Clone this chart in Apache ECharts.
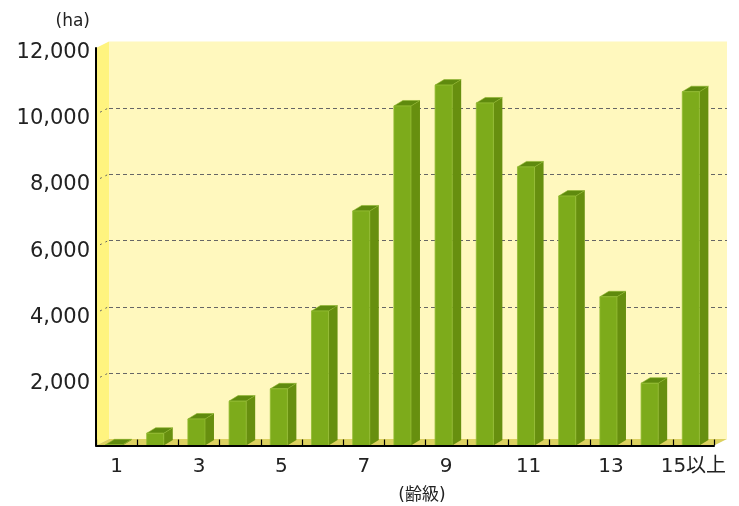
<!DOCTYPE html>
<html>
<head>
<meta charset="utf-8">
<script src="https://cdn.jsdelivr.net/npm/echarts@6/dist/echarts.min.js"></script>
<style>
html,body{margin:0;padding:0;background:#fff;}
#chart{width:739px;height:506px;}
</style>
</head>
<body>
<div id="chart"></div>
<script>
// ---- data ----
const categories = ['1','2','3','4','5','6','7','8','9','10','11','12','13','14','15以上'];
const areaValues = [20, 370, 800, 1340, 1710, 4060, 7080, 10250, 10880, 10340, 8410, 7530, 4490, 1880, 10680];
const gridTickValues = [2000, 4000, 6000, 8000, 10000];
const yMax = 12000;
const yStep = 2000;

// ---- 3D look ----
const DX = 13, DY = -6.5;       // back-plane offset
const BDX = 9, BDY = -5.5;      // bar depth offset

function renderWalls(params, api) {
  const cs = params.coordSys;
  const x0 = cs.x, x1 = cs.x + cs.width, yt = cs.y, yb = cs.y + cs.height;
  const ch = [];
  ch.push({type:'polygon', shape:{points:[[x0+DX,yt+DY],[x1+DX,yt+DY],[x1+DX,yb+DY],[x0+DX,yb+DY]]}, style:{fill:'#FFF8BE'}});
  ch.push({type:'polygon', shape:{points:[[x0,yt],[x0+DX,yt+DY],[x0+DX,yb+DY],[x0,yb]]}, style:{fill:'#FFF47F'}});
  gridTickValues.forEach(v => {
    const y = Math.round(api.coord([0, v])[1] + DY) + 0.5;
    ch.push({type:'line', shape:{x1:x0+DX, y1:y, x2:x1+DX, y2:y}, style:{stroke:'#666', lineWidth:1, lineDash:[4,3]}});
    const yf = api.coord([0, v])[1];
    ch.push({type:'line', shape:{x1:x0+4, y1:yf+DY*4/DX, x2:x0+DX, y2:yf+DY}, style:{stroke:'#666', lineWidth:1, lineDash:[2,4]}});
  });
  ch.push({type:'polygon', shape:{points:[[x0,yb],[x0+DX,yb+DY],[x1+DX,yb+DY],[x1,yb]]}, style:{fill:'#DCD160'}});
  return {type:'group', children: ch};
}

function renderBar(params, api) {
  const i = api.value(0);
  const base = api.coord([i, 0]);
  const top = api.coord([i, api.value(1)]);
  const band = api.size([1, 0])[0];
  const cx = base[0];
  const fl = cx - band * 0.27, fr = cx + band * 0.145;
  const y0 = base[1], y1 = top[1];
  return {type:'group', children:[
    {type:'polygon', shape:{points:[[fr,y1],[fr+BDX,y1+BDY],[fr+BDX,y0+BDY],[fr,y0]]}, style:{fill:'#678F0F'}},
    {type:'polygon', shape:{points:[[fl,y1],[fl+BDX,y1+BDY],[fr+BDX,y1+BDY],[fr,y1]]}, style:{fill:'#5F8A0E', stroke:'#8DB52C', lineWidth:0.6}},
    {type:'polygon', shape:{points:[[fl,y1],[fr,y1],[fr,y0],[fl,y0]]}, style:{fill:'#7DAB1B', stroke:'#93BC33', lineWidth:0.8}}
  ]};
}

const FONT = '"DejaVu Sans", "Noto Sans CJK JP", sans-serif';

const chart = echarts.init(document.getElementById('chart'), null, {renderer:'canvas'});
chart.setOption({
  animation: false,
  backgroundColor: '#ffffff',
  grid: {left: 96, right: 25, top: 48, bottom: 60.5},
  xAxis: {
    type: 'category',
    data: categories,
    z: 10,
    axisLine: {show: true, lineStyle: {color: '#000', width: 2}},
    axisTick: {show: true, inside: true, length: 6, interval: 0, lineStyle: {color: '#000', width: 1.2}},
    axisLabel: {interval: 1, margin: 11, color: '#222', fontSize: 20, fontFamily: FONT},
    splitLine: {show: false}
  },
  yAxis: {
    type: 'value',
    min: 0, max: yMax, interval: yStep,
    z: 10,
    axisLine: {show: true, lineStyle: {color: '#000', width: 2}},
    axisTick: {show: false},
    splitLine: {show: false},
    axisLabel: {
      margin: 6, color: '#222', fontFamily: FONT,
      formatter: v => v === 0 ? '' : '{n|' + v.toLocaleString('en-US') + '}',
      rich: {n: {fontSize: 21, fontFamily: FONT, color: '#222', padding: [9, 0, 0, 0]}}
    }
  },
  graphic: [
    {type:'text', x: 90, y: 22, style:{text:'(ha)', fill:'#222', font:'17px ' + FONT, textAlign:'right', textVerticalAlign:'middle'}},
    {type:'text', x: 422, y: 496, style:{text:'(齢級)', fill:'#222', font:'17px ' + FONT, textAlign:'center', textVerticalAlign:'middle'}}
  ],
  series: [
    {type:'custom', z: 1, silent: true, renderItem: renderWalls, data: [[0, 0]], encode:{x:0, y:1}},
    {type:'custom', z: 3, renderItem: renderBar, data: areaValues.map((v, i) => [i, v]), encode:{x:0, y:1}}
  ]
});
</script>
</body>
</html>
